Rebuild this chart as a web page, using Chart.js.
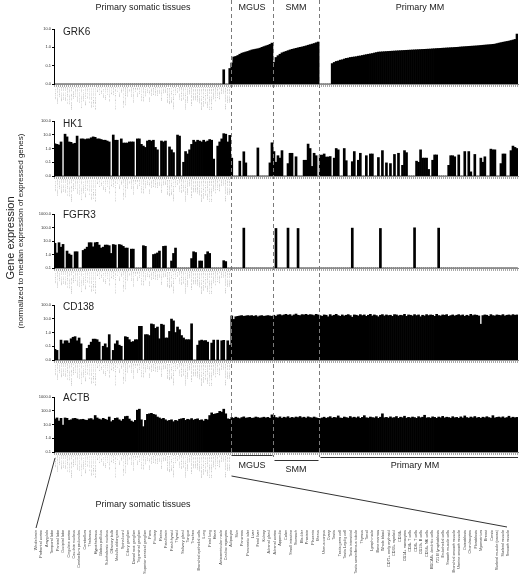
<!DOCTYPE html>
<html>
<head>
<meta charset="utf-8">
<script src="https://cdn.jsdelivr.net/npm/chart.js@4.4.1/dist/chart.umd.min.js"></script>
<style>
  body { margin: 0; background: #fff; }
  #wrap { position: relative; width: 520px; height: 583px; overflow: hidden; font-family: Arial, "Liberation Sans", sans-serif; color: #222; }
  canvas.panel { position: absolute; left: 0; }
  #overlay { position: absolute; left: 0; top: 0; pointer-events: none; }
  .t { position: absolute; white-space: nowrap; line-height: 1; }
  .grp { font-size: 9px; transform: translateX(-50%); }
  .gene { font-size: 10px; left: 63px; }
</style>
</head>
<body>
<div id="wrap">
  <canvas class="panel" id="grk6"></canvas>
  <canvas class="panel" id="hk1"></canvas>
  <canvas class="panel" id="fgfr3"></canvas>
  <canvas class="panel" id="cd138"></canvas>
  <canvas class="panel" id="actb"></canvas>
  <canvas id="overlay" width="520" height="583"></canvas>

  <div class="t grp" style="left:143px;top:3px">Primary somatic tissues</div>
  <div class="t grp" style="left:252px;top:3px">MGUS</div>
  <div class="t grp" style="left:296px;top:3px">SMM</div>
  <div class="t grp" style="left:420px;top:3px">Primary MM</div>

  <div class="t gene" style="top:27px">GRK6</div>
  <div class="t gene" style="top:119px">HK1</div>
  <div class="t gene" style="top:210px">FGFR3</div>
  <div class="t gene" style="top:302px">CD138</div>
  <div class="t gene" style="top:393px">ACTB</div>

  <div class="t" style="left:10px;top:238px;font-size:11px;transform:translate(-50%,-50%) rotate(-90deg)">Gene expression</div>
  <div class="t" style="left:21px;top:231px;font-size:8px;transform:translate(-50%,-50%) rotate(-90deg)">(normalized to median expression of expressed genes)</div>

  <div class="t grp" style="left:252px;top:461px">MGUS</div>
  <div class="t grp" style="left:296px;top:465px">SMM</div>
  <div class="t grp" style="left:415px;top:461px">Primary MM</div>
  <div class="t grp" style="left:143px;top:500px">Primary somatic tissues</div>
</div>

<script>
// ---- categories ----
const tissueNames = [
  'Whole brain','Prefrontal cortex','Amygdala','Temporal lobe','Parietal lobe','Occipital lobe','Cingulate cortex','Caudate nucleus','Cerebellum peduncles','Cerebellum',
  'Thalamus','Hypothalamus','Globus pallidus','Subthalamic nucleus','Olfactory bulb','Medulla oblongata','Spinal cord','Ciliary ganglion','Dorsal root ganglion','Trigeminal ganglion',
  'Superior cervical ganglion','Pons','Pituitary','Retina','Fetal brain','Fetal thyroid','Thyroid','Salivary gland','Tongue','Trachea',
  'Bronchial epithelial cells','Lung','Fetal lung','Heart','Atrioventricular node','Cardiac myocytes','Adipocyte','Skin','Pancreas','Pancreatic islet',
  'Liver','Fetal liver','Kidney','Adrenal gland','Adrenal cortex','Appendix','Colon','Small intestine','Stomach','Bladder',
  'Prostate','Placenta','Uterus','Uterus corpus','Ovary','Testis','Testis germ cell','Testis Leydig cell','Testis interstitial','Testis seminiferous tubule',
  'Thymus','Tonsil','Lymph node','Bone marrow','Whole blood','CD71+ early erythroid','CD33+ myeloid','CD34+','CD14+ monocytes','CD4+ T cells',
  'CD8+ T cells','CD19+ B cells','CD56+ NK cells','BDCA4+ dendritic cells','721 B lymphoblasts','Endothelial cells','Smooth muscle cells','Bronchial smooth muscle','Uterine smooth muscle','Osteoblasts',
  'Chondrocytes','Fibroblasts','Myometrium','Breast','Cervix','Skeletal muscle (psoas)','Skeletal muscle','Smooth muscle'
];
const mgusCount = 21;
const smmCount = 23;
const mmCount = 99;

// ---- series values (normalized expression) ----
const grk6Tissue = [
  0,0,0,0,0,0,0,0,0,0, 0,0,0,0,0,0,0,0,0,0, 0,0,0,0,0,0,0,0,0,0, 0,0,0,0,0,0,0,0,0,0,
  0,0,0,0,0,0,0,0,0,0, 0,0,0,0,0,0,0,0,0,0, 0,0,0,0,0,0,0,0,0,0, 0,0,0,0,0,0,0,0,0,0,
  0,0,0,0,0.06,0,0,0.07
];
const grk6Mgus = [0.14,0.3,0.32,0.36,0.42,0.48,0.52,0.56,0.6,0.66,0.72,0.76,0.8,0.84,0.9,1.0,1.1,1.2,1.3,1.45,1.7];
const grk6Smm = [0.15,0.28,0.35,0.42,0.5,0.55,0.6,0.66,0.72,0.78,0.83,0.88,0.94,1.0,1.05,1.12,1.2,1.3,1.4,1.5,1.62,1.78,1.95];
const grk6Mm = [
  0,0,0,0,0,0,
  0.13,0.15,0.17,0.18,0.2,0.21,0.23,0.25,0.26,0.28,0.29,0.3,0.31,0.33,0.34,
  0.36,0.38,0.4,0.42,0.44,0.46,0.49,0.52,0.55,
  0.56,0.57,0.58,0.59,0.6,0.61,0.62,0.63,
  0.64,0.65,0.66,0.67,0.68,0.69,0.7,0.71,0.72,0.73,0.74,0.75,0.76,0.77,0.78,0.79,0.8,
  0.81,0.83,0.84,0.86,0.87,0.88,0.9,0.91,0.93,0.94,0.96,0.97,0.99,1.0,1.02,1.05,
  1.07,1.09,1.11,1.13,1.15,1.17,1.19,1.21,1.24,1.27,1.3,1.33,1.36,1.39,1.42,1.46,1.5,
  1.6,1.7,1.8,1.9,2.0,2.1,2.2,2.35,2.5,
  2.7,5.3
];

const hk1Tissue = [
  2.2,2.0,1.8,3.0,0,11,7,3,2.8,2.2, 2.4,8,0,5,5,4.5,5,5,6,7,
  6.5,5,5,4.5,4,4,3.5,3,0,9.6, 4,4,0,5,2.5,2.5,2.5,3,3,3,
  0,5,5,2,1.5,1.2,3.5,4,3.5,4, 1.2,0.8,0,3.5,3,3.5,0,1.3,0.8,0.5,
  0,9.5,8,0,0.1,0.6,0.4,0.8,2,4, 3,4,3.5,3,4,3,3.5,4.5,4,0.17,
  0,1.5,3,5,12,11,3,9
];
const hk1Mgus = [0.2,0,0,0,0.12,0,0.58,0.09,0,0,0,0,0,1.1,0,0,0,0,0,0.09,2.6];
const hk1Smm = [0.6,0.1,0.3,0.2,0.7,0,0,0.08,0.45,0.45,0,0.25,0,0,0,0.14,0.14,2.1,1.0,0.05,0.45,0.3,0];
const hk1Mm = [
  0.33,0.33,0.4,0.24,0.24,0.26,0,0.2,1.0,0.8, 0,0,1.0,0.13,0,0,0.11,0.6,0,0.14,
  0.45,0,0,0.3,0,0.4,0.4,0,0,0.22, 0,0.7,0,0.09,0,0.08,0,0.37,0,0.45,
  0,0.06,0.7,0.5,0,0,0,0,0.12,0.1, 0.8,0.2,0.2,0.2,0.03,0,0.14,0.34,0.34,0,
  0,0,0,0,0.06,0.3,0.3,0.25,0,0.34, 0,0,0.6,0,0.6,0.02,0,0.37,0,0,
  0.2,0.1,0.25,0,0,0.9,0.8,0.8,0,0, 0.08,0.4,0.4,0,0,0.7,1.5,1.2,1.0
];

const fgfr3Tissue = [
  6.8,1.3,7.5,3.5,5.6,0,1.8,1.1,0.9,0, 1.6,1.6,0,0,2,2.5,3.5,7.5,7.5,3.7,
  7.5,8,5,3,3.5,5,5,4.5,1.2,5.5, 5,0,5.5,5,4,3,3,0,2.5,2.5,
  0,0,0,0,4.5,4,0,0,0,1, 1.1,1.3,1.8,0,4,4.2,0,0,0.33,1.2,
  3,0,0,0,0,0,0,0,0.5,1.6, 1.4,0,0.33,0.33,0,1,1.6,1.2,0,0,
  0,0,0,0,0.35,0.3,0,0
];
const fgfr3Mgus = [0,0,0,0,0,0,90,0,0,0,0,0,0,0,0,0,0,0,0,0,0];
const fgfr3Smm = [0,85,0,0,0,0,0,90,0,0,0,0,85,0,0,0,0,0,0,0,0,0,0];
const fgfr3Mm = [
  0,0,0,0,0,0,0,0,0,0, 0,0,0,0,0,0,90,0,0,0,
  0,0,0,0,0,0,0,0,0,0, 85,0,0,0,0,0,0,0,0,0,
  0,0,0,0,0,0,0,95,0,0, 0,0,0,0,0,0,0,0,0,90,
  0,0,0,0,0,0,0,0,0,0, 0,0,0,0,0,0,0,0,0,0,
  0,0,0,0,0,0,0,0,0,0, 0,0,0,0,0,0,0,0,0
];

const cd138Tissue = [
  0.06,0.05,0,0.28,0.15,0.25,0.25,0.17,0.35,0.45, 0.5,0.25,0.4,0.15,0,0,0.07,0.12,0.2,0.33,
  0.33,0.3,0.2,0,0.1,0.15,0.08,0.7,0,0.05, 0.15,0.25,0.12,0.1,0,0.5,0.45,0.3,0.2,0.22,
  0.3,0.3,2.8,2.8,0,0.7,0.7,0.6,4.2,3.8, 2.0,2.5,0.35,4,3.5,0.4,0.4,1.2,9.5,7,
  1.0,2.5,1.6,0.6,0.4,0.3,0.3,0.3,4.3,0, 0,0.12,0.25,0.28,0.25,0.26,0.2,0,0.17,0.28,
  0,0.28,0,0.25,0.27,0,0.25,0.12
];
const cd138Mgus = [16,9,14,15,16,17,15,16,17,16,17,15,17,14,16,17,15,16,17,16,15];
const cd138Smm = [18,15,19,20,17,19,21,18,20,16,19,22,18,17,20,19,21,18,20,19,17,21,19];
const cd138Mm = [
  17,15,19,18,14,20,16,18,21,17,15,19,16,18,20,17,13,19,18,16,
  20,17,19,15,18,21,16,19,17,14,18,20,16,19,17,18,15,20,19,16,
  18,17,21,15,19,18,16,20,17,19,14,18,16,20,17,19,18,15,21,17,
  16,19,18,20,15,17,19,16,18,20,17,19,15,18,16,21,17,19,18,16,
  4,17,19,18,15,20,17,16,19,18,17,20,16,18,19,17,20,18,19
];

const actbTissue = [
  25,30,18,28,9,30,28,20,22,27, 28,25,22,23,24,21,20,26,27,22,
  45,30,25,22,28,24,21,35,16,20, 28,30,22,18,24,38,40,25,18,15,
  20,110,130,22,7,20,55,60,65,55, 50,35,30,25,28,22,18,20,22,16,
  20,18,24,26,28,20,24,22,27,21, 24,26,20,22,18,24,22,45,70,55,
  60,65,90,80,130,60,26,24
];
const actbMgus = [32,28,34,30,27,32,36,29,31,33,28,30,35,32,29,31,34,30,33,28,50];
const actbSmm = [46,32,30,36,28,34,31,37,29,33,30,35,32,38,31,34,29,36,32,30,35,31,28];
const actbMm = [
  27,30,34,28,32,37,29,33,31,42,30,28,35,32,29,38,31,34,30,36,
  28,33,44,31,29,35,32,30,37,28,34,60,31,33,29,36,30,32,38,28,
  34,31,40,29,33,30,35,32,28,37,31,34,47,30,32,29,36,33,28,35,
  31,39,30,34,32,29,37,31,33,28,36,30,42,32,29,35,31,38,30,33,
  28,34,31,37,32,29,44,30,33,35,31,36,29,32,40,30,34,31,33
];

// ---- tick labels ----
const ticks4 = [0.01, 0.1, 1, 10];
const ticks5 = [0.01, 0.1, 1, 10, 100];
const ticks5b = [0.1, 1, 10, 100, 1000];

Chart.defaults.font.family = 'Arial, "Liberation Sans", sans-serif';

const sampleLabels = tissueNames.concat(new Array(mgusCount + smmCount + mmCount).fill(''));

const panels = [
  { id: 'grk6',  top: 29,  bottom: 84,  ticks: ticks4,  values: [grk6Tissue, grk6Mgus, grk6Smm, grk6Mm] },
  { id: 'hk1',   top: 121, bottom: 176, ticks: ticks5,  values: [hk1Tissue, hk1Mgus, hk1Smm, hk1Mm] },
  { id: 'fgfr3', top: 214, bottom: 268, ticks: ticks5b, values: [fgfr3Tissue, fgfr3Mgus, fgfr3Smm, fgfr3Mm] },
  { id: 'cd138', top: 305, bottom: 360, ticks: ticks5,  values: [cd138Tissue, cd138Mgus, cd138Smm, cd138Mm] },
  { id: 'actb',  top: 397, bottom: 452, ticks: ticks5b, values: [actbTissue, actbMgus, actbSmm, actbMm] }
];

const PAD_TOP = 6;
const XAXIS_H = 26;

const charts = panels.map(p => {
  const canvas = document.getElementById(p.id);
  canvas.width = 520;
  canvas.height = (p.bottom - p.top) + PAD_TOP + XAXIS_H;
  canvas.style.top = (p.top - PAD_TOP) + 'px';
  const data = [].concat(...p.values);
  return new Chart(canvas, {
    type: 'bar',
    data: {
      labels: sampleLabels,
      datasets: [{
        data: data,
        backgroundColor: '#000',
        borderWidth: 0,
        barPercentage: 1,
        categoryPercentage: 1
      }]
    },
    options: {
      responsive: false,
      animation: false,
      devicePixelRatio: 1,
      layout: { padding: { top: PAD_TOP, left: 0, right: 2, bottom: 0 } },
      plugins: { legend: { display: false }, tooltip: { enabled: false } },
      scales: {
        x: {
          grid: { drawOnChartArea: false, tickLength: 3, color: '#a8a8a8' },
          border: { color: '#8c8c8c' },
          ticks: { autoSkip: false, minRotation: 90, maxRotation: 90, padding: 0, color: '#9a9a9a', font: { size: 2.3 } },
          afterFit: s => { s.height = XAXIS_H; }
        },
        y: {
          type: 'logarithmic',
          min: p.ticks[0],
          max: p.ticks[p.ticks.length - 1],
          grid: { drawOnChartArea: false, tickLength: 2, color: '#000' },
          border: { color: '#000' },
          ticks: { padding: 1, color: '#333', font: { size: 4 }, callback: v => Number(v).toFixed(1) },
          afterBuildTicks: s => { s.ticks = p.ticks.map(v => ({ value: v })); },
          afterFit: s => { s.width = 54; }
        }
      }
    }
  });
});

// ---- overlay: group separators, brackets, tissue list ----
const ov = document.getElementById('overlay').getContext('2d');
const xs = charts[0].scales.x;
const edge = i => (xs.getPixelForValue(i - 1) + xs.getPixelForValue(i)) / 2;
const nT = tissueNames.length;
const bMgus = Math.round(edge(nT)) + 0.5;
const bSmm = Math.round(edge(nT + mgusCount)) + 0.5;
const bMm = Math.round(edge(nT + mgusCount + smmCount)) + 0.5;

ov.strokeStyle = '#7a7a7a';
ov.lineWidth = 1;
ov.setLineDash([4, 3]);
[[bMgus, 455], [bSmm, 457], [bMm, 457]].forEach(([x, y2]) => {
  ov.beginPath(); ov.moveTo(x, 0); ov.lineTo(x, y2); ov.stroke();
});
ov.setLineDash([]);

ov.strokeStyle = '#333';
function seg(x1, y1, x2, y2) { ov.beginPath(); ov.moveTo(x1, y1); ov.lineTo(x2, y2); ov.stroke(); }
seg(bMgus, 455.5, bSmm - 1, 455.5);
seg(bSmm + 1, 460.5, bMm - 1, 460.5);
seg(bMm + 1, 457.5, xs.right, 457.5);
seg(55, 458, 36, 528);
seg(bMgus, 476, 507, 527);

ov.fillStyle = '#444';
ov.font = '3.8px Arial, "Liberation Sans", sans-serif';
ov.textAlign = 'right';
ov.textBaseline = 'middle';
const step = (508 - 36) / (nT - 1);
tissueNames.forEach((name, k) => {
  ov.save();
  ov.translate(36 + k * step, 530);
  ov.rotate(-Math.PI / 2);
  ov.fillText(name, 0, 0);
  ov.restore();
});
</script>
</body>
</html>
